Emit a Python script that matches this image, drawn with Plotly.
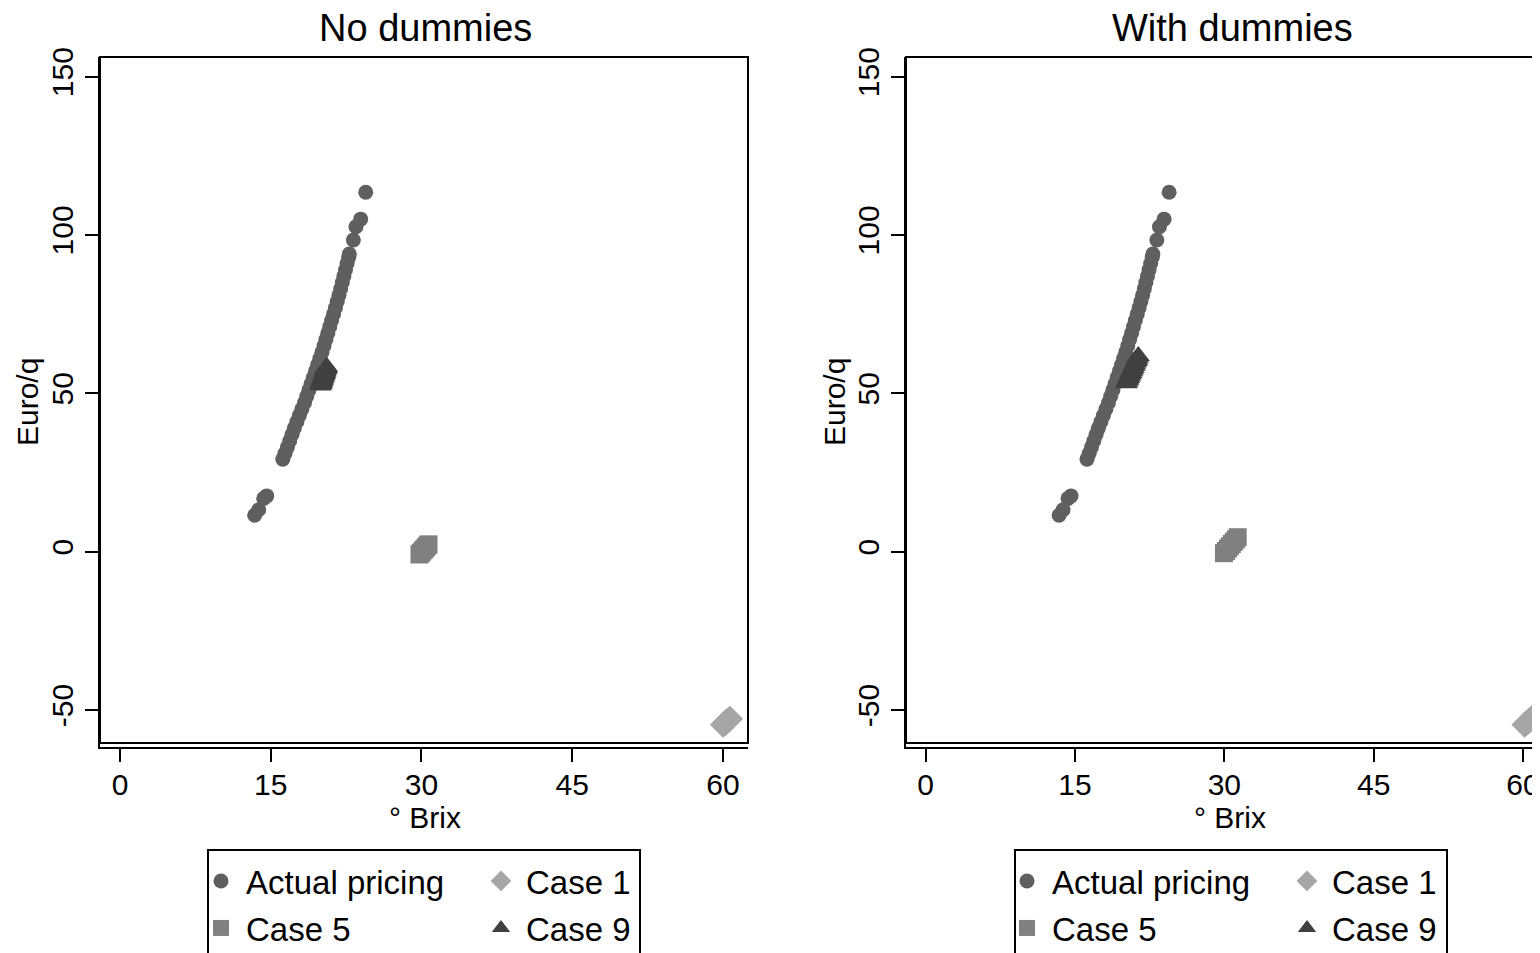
import plotly.graph_objects as go

# ---------------- data ----------------
actual_brix = [13.4, 13.8, 14.3, 14.6, 16.2, 16.42, 16.66, 16.89, 17.12, 17.35, 17.6, 17.85,
               18.1, 18.36, 18.58, 18.8, 19.02, 19.24, 19.46, 19.67, 19.89, 20.1, 20.3, 20.49,
               20.68, 20.87, 21.06, 21.25, 21.44, 21.62, 21.79, 21.96, 22.12, 22.28, 22.44,
               22.6, 22.76, 22.82, 23.22, 23.48, 23.95, 24.45]
actual_euro = [11.5, 13.2, 16.8, 17.6, 29.2, 31, 33, 35, 37, 39, 41, 43,
               45, 47, 49, 51, 53, 55, 57, 59, 61, 63, 65, 67,
               69, 71, 73, 75, 77, 79, 81, 83, 85, 87, 89,
               91, 93, 94, 98.4, 102.6, 105.0, 113.5]

# No dummies
nd_case1_brix = [60.0, 60.1, 60.2, 60.3, 60.4, 60.5, 60.6, 60.7]
nd_case1_euro = [-54.7, -54.4, -54.2, -53.9, -53.6, -53.3, -53.1, -52.8]
nd_case5_brix = [29.8, 29.93, 30.06, 30.19, 30.32, 30.45, 30.58, 30.7]
nd_case5_euro = [-0.9, -0.45, 0.0, 0.5, 0.9, 1.4, 1.85, 2.3]
nd_case9_brix = [19.95, 20.0, 20.03, 20.07, 20.1, 20.14, 20.18, 20.22, 20.26, 20.3, 20.34,
                 20.38, 20.41, 20.45, 20.49, 20.53, 20.57]
nd_case9_euro = [52.5, 52.9, 53.2, 53.6, 54.0, 54.3, 54.7, 55.0, 55.4, 55.8, 56.2,
                 56.5, 56.9, 57.3, 57.7, 58.0, 58.4]

# With dummies
wd_case1_brix = [60.15, 60.3, 60.45, 60.6, 60.75, 60.9, 61.05, 61.2]
wd_case1_euro = [-54.7, -54.3, -53.9, -53.4, -53.0, -52.6, -52.2, -51.8]
wd_case5_brix = [29.96, 30.16, 30.36, 30.55, 30.75, 30.95, 31.15, 31.34]
wd_case5_euro = [-0.5, 0.2, 0.95, 1.65, 2.4, 3.1, 3.85, 4.55]
wd_case9_brix = [20.17, 20.25, 20.32, 20.4, 20.47, 20.55, 20.62, 20.7, 20.77, 20.85, 20.92,
                 21.0, 21.07, 21.15, 21.22, 21.29, 21.36]
wd_case9_euro = [53.2, 53.7, 54.3, 54.8, 55.4, 55.9, 56.4, 57.0, 57.5, 58.0, 58.6,
                 59.1, 59.7, 60.2, 60.7, 61.3, 61.8]

x_ticks = [0, 15, 30, 45, 60]
x_ticktext = ["0", "15", "30", "45", "60"]
y_ticks = [-50, 0, 50, 100, 150]
y_ticktext = ["-50", "0", "50", "100", "150"]
titles = ["No dummies", "With dummies"]
x_title = "° Brix"
y_title = "Euro/q"
names = ["Actual pricing", "Case 1", "Case 5", "Case 9"]

# ---------------- styling ----------------
OX, OY = 8, 8  # page body margin: figure origin sits at (8, 8) on screen
W, H = 1540 - OX, 953 - OY
FONT = "Liberation Sans, Arial, Helvetica, sans-serif"
COL = {"Actual pricing": "#5f5f5f", "Case 1": "#a6a6a6", "Case 5": "#808080", "Case 9": "#404040"}
SYM = {"Actual pricing": "circle", "Case 1": "diamond", "Case 5": "square", "Case 9": "triangle-up"}
SIZE = {"Actual pricing": 15, "Case 1": 20, "Case 5": 18, "Case 9": 20}


def px(v):
    # screen x pixel -> paper fraction
    return (v - OX) / W


def py(v):
    # screen y pixel -> paper fraction
    return 1 - (v - OY) / H


fig = go.Figure()

panels = [
    dict(xa="x", ya="y", legends=("legend", "legend2"),
         data={"Actual pricing": (actual_brix, actual_euro),
               "Case 1": (nd_case1_brix, nd_case1_euro),
               "Case 5": (nd_case5_brix, nd_case5_euro),
               "Case 9": (nd_case9_brix, nd_case9_euro)}),
    dict(xa="x2", ya="y2", legends=("legend3", "legend4"),
         data={"Actual pricing": (actual_brix, actual_euro),
               "Case 1": (wd_case1_brix, wd_case1_euro),
               "Case 5": (wd_case5_brix, wd_case5_euro),
               "Case 9": (wd_case9_brix, wd_case9_euro)}),
]

for p in panels:
    for nm in names:
        xs, ys = p["data"][nm]
        leg = p["legends"][0] if nm in ("Actual pricing", "Case 1") else p["legends"][1]
        fig.add_trace(go.Scatter(
            x=xs, y=ys, mode="markers", name=nm,
            xaxis=p["xa"], yaxis=p["ya"], legend=leg,
            marker=dict(symbol=SYM[nm], size=SIZE[nm], color=COL[nm], line=dict(width=0)),
            hoverinfo="skip",
        ))

# panel geometry in screen pixels
L1, R1 = 100, 748
L2, R2 = 906, 1540
TOP, BOT = 57, 747

axis_common = dict(showgrid=False, zeroline=False, showline=True, linecolor="black", linewidth=2,
                   ticks="outside", ticklen=13, tickwidth=2, tickcolor="black",
                   tickfont=dict(family=FONT, size=30, color="black"))

fig.update_layout(
    xaxis=dict(domain=[px(L1), px(R1)], range=[-1.99, 62.49], tickvals=x_ticks, ticktext=x_ticktext,
               anchor="y", ticklabelstandoff=-3, **axis_common),
    yaxis=dict(domain=[py(BOT), py(TOP)], range=[-61.7, 156.2], tickvals=y_ticks, ticktext=y_ticktext,
               anchor="x", tickangle=-90, ticklabelstandoff=0, **axis_common),
    xaxis2=dict(domain=[px(L2), px(R2)], range=[-1.98, 61.71], tickvals=x_ticks, ticktext=x_ticktext,
                anchor="y2", ticklabelstandoff=-3, **axis_common),
    yaxis2=dict(domain=[py(BOT), py(TOP)], range=[-61.7, 156.2], tickvals=y_ticks, ticktext=y_ticktext,
                anchor="x2", tickangle=-90, ticklabelstandoff=0, **axis_common),
    width=W, height=H, autosize=False,
    margin=dict(l=0, r=0, t=0, b=0, pad=0, autoexpand=False),
    paper_bgcolor="white", plot_bgcolor="white",
    font=dict(family=FONT, color="black"),
    showlegend=True,
)

leg_common = dict(orientation="h", xanchor="left", yanchor="middle", xref="paper", yref="paper",
                  entrywidth=225, entrywidthmode="pixels", bgcolor="rgba(0,0,0,0)", borderwidth=0,
                  font=dict(family=FONT, size=33, color="black"), itemwidth=40, itemclick=False,
                  tracegroupgap=0)
fig.update_layout(
    legend=dict(x=px(196), y=py(881), **leg_common),
    legend2=dict(x=px(196), y=py(928), **leg_common),
    legend3=dict(x=px(1002), y=py(881), **leg_common),
    legend4=dict(x=px(1002), y=py(928), **leg_common),
)

# plot-region boxes and legend boxes
shapes = []
for l, r in ((L1, R1), (L2, R2 + 20)):
    shapes.append(dict(type="rect", xref="paper", yref="paper", x0=px(l), x1=px(r), y0=py(743), y1=py(TOP),
                       line=dict(color="black", width=2), fillcolor="rgba(0,0,0,0)", layer="above"))
for l, r in ((208, 640), (1015, 1447)):
    shapes.append(dict(type="rect", xref="paper", yref="paper", x0=px(l), x1=px(r), y0=py(953 + 30), y1=py(850),
                       line=dict(color="black", width=2), fillcolor="rgba(0,0,0,0)"))
fig.update_layout(shapes=shapes)

ann = []
for cx, t in ((426, titles[0]), (1232, titles[1])):
    ann.append(dict(x=px(cx), y=py(28), xref="paper", yref="paper", text=t, showarrow=False,
                    xanchor="center", yanchor="middle", font=dict(family=FONT, size=38, color="black")))
for cx in (425, 1230):
    ann.append(dict(x=px(cx), y=py(817), xref="paper", yref="paper", text=x_title, showarrow=False,
                    xanchor="center", yanchor="middle", font=dict(family=FONT, size=30, color="black")))
for cx in (27, 834):
    ann.append(dict(x=px(cx), y=py(402), xref="paper", yref="paper", text=y_title, showarrow=False,
                    textangle=-90, xanchor="center", yanchor="middle",
                    font=dict(family=FONT, size=30, color="black")))
fig.update_layout(annotations=ann)

fig.write_html("out.html")
